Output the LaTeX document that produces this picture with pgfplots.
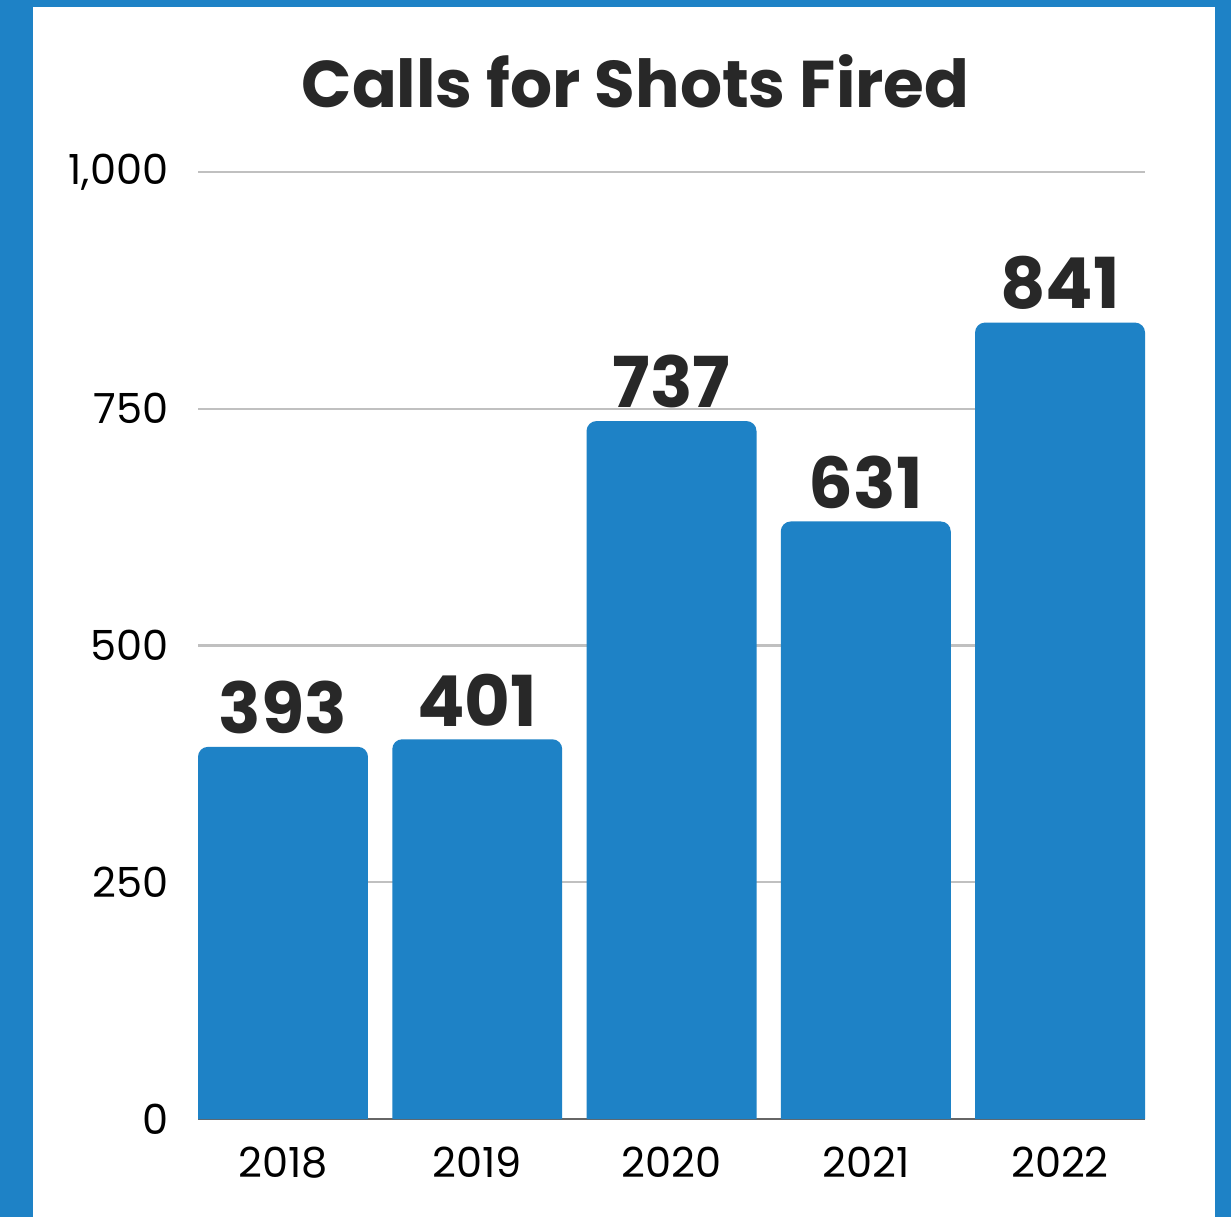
\documentclass[border=0pt]{standalone}
\usepackage{pgfplots}
\pgfplotsset{compat=1.18}
\usepackage{fontspec}
\setmainfont{Poppins}
\definecolor{barblue}{HTML}{1E82C6}
\definecolor{txt}{HTML}{282828}
\definecolor{gridc}{HTML}{C0C0C0}
\begin{document}
\begin{tikzpicture}
\fill[barblue] (0,0) rectangle (123.1mm,121.7mm);
\fill[white] (3.3mm,0) rectangle (121.5mm,121.0mm);
\useasboundingbox (0,0) rectangle (123.1mm,121.7mm);
\node[font=\bfseries\fontsize{18.8}{22}\selectfont, text=txt] at (63.55mm,113.6mm) {Calls for Shots Fired};
\begin{axis}[
  at={(19.8mm,9.8mm)}, anchor=south west,
  scale only axis, width=94.7mm, height=94.7mm,
  xmin=-0.4375, xmax=4.4375, ymin=0, ymax=1000,
  axis line style={draw=none},
  ytick={0,250,500,750,1000},
  yticklabels={0,250,500,750,{1,000}},
  xtick={0,1,2,3,4},
  xticklabels={2018,2019,2020,2021,2022},
  major tick length=0pt,
  ymajorgrids,
  grid style={gridc, line width=0.6pt},
  extra y ticks={0}, extra y tick labels={},
  extra y tick style={grid style={gray!80!black, line width=0.4pt}},
  /pgf/number format/assume math mode=true,
  tick label style={font=\fontsize{11.8}{14}\selectfont, text=black},
  yticklabel style={inner sep=0pt, xshift=-2.9mm},
  xticklabel style={inner sep=0pt, yshift=-2.7mm},
  clip=false,
]
\addplot[fill=barblue, draw=none, rounded corners=1mm] coordinates {(-0.4375,0) (-0.4375,393) (0.4375,393) (0.4375,0)};
\addplot[fill=barblue, draw=none, rounded corners=1mm] coordinates {(0.5625,0) (0.5625,401) (1.4375,401) (1.4375,0)};
\addplot[fill=barblue, draw=none, rounded corners=1mm] coordinates {(1.5625,0) (1.5625,737) (2.4375,737) (2.4375,0)};
\addplot[fill=barblue, draw=none, rounded corners=1mm] coordinates {(2.5625,0) (2.5625,631) (3.4375,631) (3.4375,0)};
\addplot[fill=barblue, draw=none, rounded corners=1mm] coordinates {(3.5625,0) (3.5625,841) (4.4375,841) (4.4375,0)};
\addplot[draw=none, mark=none, nodes near coords, point meta=y,
  nodes near coords style={font=\bfseries\fontsize{20}{22}\selectfont, text=txt, anchor=south, inner sep=0pt, yshift=1.2mm}]
  coordinates {(0,393) (1,401) (2,737) (3,631) (4,841)};
\end{axis}
\end{tikzpicture}
\end{document}
